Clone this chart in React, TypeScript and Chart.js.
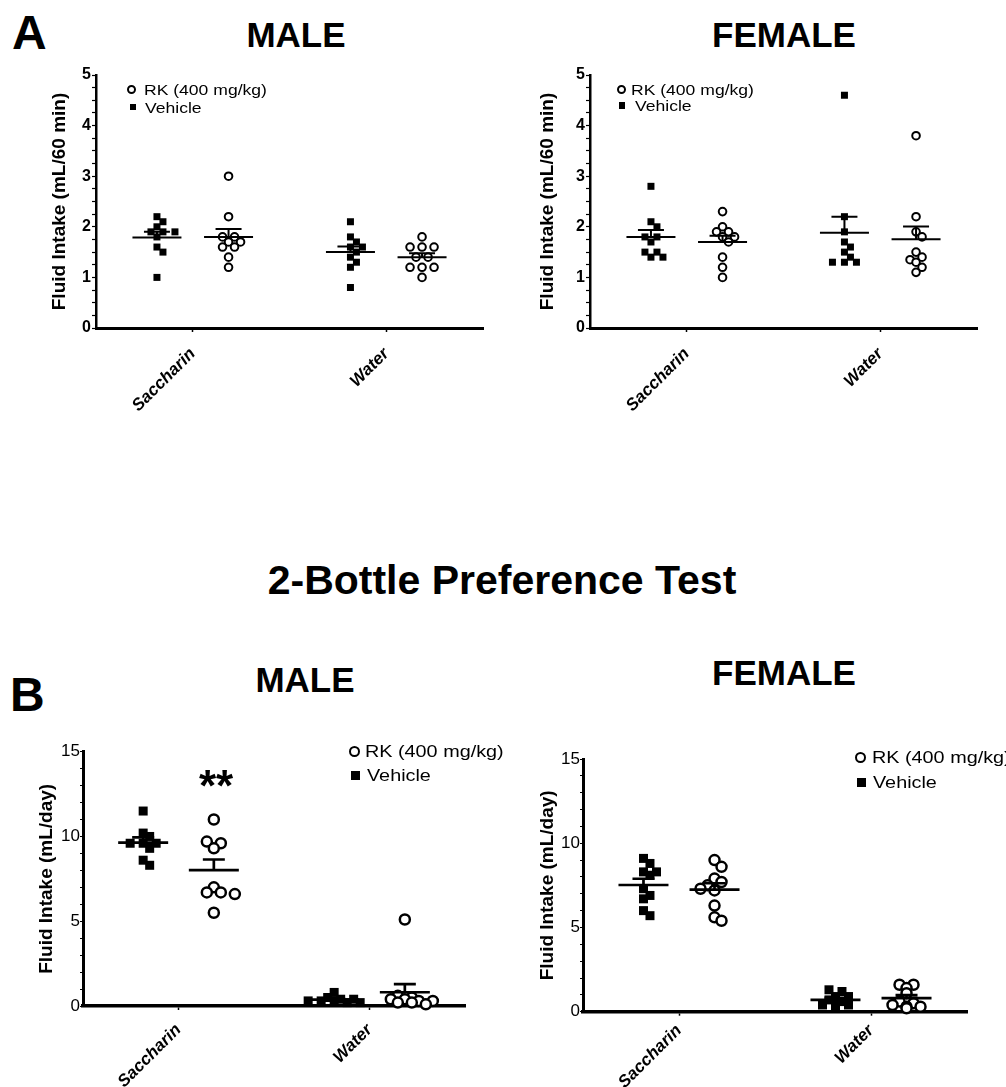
import React, { useEffect, useRef } from 'react';
import { Chart, registerables } from 'chart.js';

Chart.register(...registerables);

const FONT = "'Liberation Sans', Arial, Helvetica, sans-serif";
Chart.defaults.font.family = FONT;
Chart.defaults.color = '#000';

// ---------- data ----------
const categories = ['Saccharin', 'Water'];
const seriesNames = ['RK (400 mg/kg)', 'Vehicle'];

// Panel A – fluid intake (mL/60 min)
const maleA_vehicle_saccharin = [2.2, 2.1, 2.0, 1.9, 1.9, 1.9, 1.8, 1.6, 1.5, 1.0];
const maleA_rk_saccharin = [3.0, 2.2, 1.8, 1.8, 1.7, 1.7, 1.6, 1.6, 1.4, 1.2];
const maleA_vehicle_water = [2.1, 1.8, 1.7, 1.6, 1.6, 1.5, 1.4, 1.3, 1.2, 0.8];
const maleA_rk_water = [1.8, 1.6, 1.6, 1.6, 1.4, 1.4, 1.2, 1.2, 1.2, 1.0];
const femaleA_vehicle_saccharin = [2.8, 2.1, 2.0, 1.8, 1.8, 1.7, 1.5, 1.5, 1.4, 1.4];
const femaleA_rk_saccharin = [2.3, 2.0, 1.9, 1.9, 1.8, 1.8, 1.7, 1.4, 1.2, 1.0];
const femaleA_vehicle_water = [4.6, 2.2, 1.9, 1.7, 1.6, 1.5, 1.4, 1.3, 1.3, 1.3];
const femaleA_rk_water = [3.8, 2.2, 1.9, 1.8, 1.5, 1.4, 1.35, 1.3, 1.2, 1.1];

// Panel B – 2-bottle preference test (mL/day)
const maleB_vehicle_saccharin = [11.5, 10.2, 10.0, 9.6, 9.6, 9.6, 9.3, 8.6, 8.3];
const maleB_rk_saccharin = [11.0, 9.7, 9.6, 9.3, 7.0, 6.7, 6.7, 6.6, 5.5];
const maleB_vehicle_water = [0.8, 0.5, 0.4, 0.4, 0.3, 0.3, 0.3, 0.2, 0.2];
const maleB_rk_water = [5.1, 0.6, 0.5, 0.4, 0.4, 0.3, 0.3, 0.2, 0.2, 0.1];
const femaleB_vehicle_saccharin = [9.1, 8.8, 8.3, 8.3, 8.1, 7.3, 6.9, 6.7, 6.0, 5.7];
const femaleB_rk_saccharin = [9.0, 8.6, 7.9, 7.7, 7.5, 7.3, 7.2, 6.3, 5.6, 5.4];
const femaleB_vehicle_water = [1.3, 1.2, 0.9, 0.9, 0.7, 0.6, 0.4, 0.4, 0.4, 0.2];
const femaleB_rk_water = [1.6, 1.6, 1.4, 1.1, 0.6, 0.5, 0.4, 0.3, 0.3, 0.2];

const yTitleA = 'Fluid Intake (mL/60 min)';
const yTitleB = 'Fluid Intake (mL/day)';

// ---------- helpers ----------
const GROUP_OFFSET = 0.185;

function mean(a: number[]) {
  return a.reduce((s, v) => s + v, 0) / a.length;
}
function sem(a: number[]) {
  const m = mean(a);
  const v = a.reduce((s, x) => s + (x - m) * (x - m), 0) / (a.length - 1);
  return Math.sqrt(v) / Math.sqrt(a.length);
}

// GraphPad-like arrangement: equal values form centred rows, nearby rows are
// shifted by half a spacing to avoid overlapping. Returns pixel offsets.
function swarm(values: number[], pxY: number, d: number, s: number, maxRow: number): number[] {
  const idx = values.map((_, i) => i).sort((a, b) => values[b] - values[a]);
  const out = new Array(values.length).fill(0);
  const placed: { x: number; y: number }[] = [];
  const rows: number[][] = [];
  let row: number[] = [];
  let rowTop = 0;
  for (const id of idx) {
    const y = values[id] * pxY;
    if (row.length && (rowTop - y > 2.5 || row.length >= maxRow)) {
      rows.push(row);
      row = [];
    }
    if (!row.length) rowTop = y;
    row.push(id);
  }
  if (row.length) rows.push(row);
  const h = d / 2;
  const shifts = [0, h, -h];
  for (const r of rows) {
    const base = r.map((_, k) => (k - (r.length - 1) / 2) * d);
    let best = 0;
    let bestC = Infinity;
    for (const sh of shifts) {
      let c = 0;
      r.forEach((id, k) => {
        const x = base[k] + sh;
        const y = values[id] * pxY;
        for (const p of placed) {
          if (Math.abs(p.y - y) < s && Math.abs(p.x - x) < h - 0.01) c++;
        }
      });
      if (c < bestC) {
        bestC = c;
        best = sh;
      }
      if (c === 0) break;
    }
    r.forEach((id, k) => {
      const x = base[k] + best;
      out[id] = x;
      placed.push({ x, y: values[id] * pxY });
    });
  }
  return out;
}

type PanelCfg = {
  cx: number; cy: number; cw: number; ch: number;
  L: number; T: number; R: number; B: number;
  yMax: number; yMinor: number; yMajor: number;
  yTitle: string; yTitleSize: number; yTitleCenter: number;
  yTickSize: number; yTickWeight: string; yTickPad: number; yTickLen: number;
  xTickSize: number; xTickPad: number;
  axisW: number; sq: number; circR: number; circBW: number;
  dSq: number; sSq: number; dCirc: number; sCirc: number; maxRow: number;
  meanHalf: number; capHalf: number; lineW: number;
  veh: number[][]; rk: number[][];
};

const panels: PanelCfg[] = [
  {
    cx: 0, cy: 55, cw: 495, ch: 370, L: 96, T: 75, R: 483, B: 328,
    yMax: 5, yMinor: 0.25, yMajor: 1,
    yTitle: yTitleA, yTitleSize: 19, yTitleCenter: 60,
    yTickSize: 16, yTickWeight: 'bold', yTickPad: 1, yTickLen: 4,
    xTickSize: 17, xTickPad: 12,
    axisW: 2.5, sq: 7, circR: 3.8, circBW: 2,
    dSq: 12, sSq: 6.5, dCirc: 12, sCirc: 9.5, maxRow: 5,
    meanHalf: 24.5, capHalf: 13, lineW: 2,
    veh: [maleA_vehicle_saccharin, maleA_vehicle_water],
    rk: [maleA_rk_saccharin, maleA_rk_water],
  },
  {
    cx: 500, cy: 55, cw: 500, ch: 370, L: 590, T: 75, R: 977, B: 328,
    yMax: 5, yMinor: 0.25, yMajor: 1,
    yTitle: yTitleA, yTitleSize: 19, yTitleCenter: 548,
    yTickSize: 16, yTickWeight: 'bold', yTickPad: 1, yTickLen: 4,
    xTickSize: 17, xTickPad: 12,
    axisW: 2.5, sq: 7, circR: 3.8, circBW: 2,
    dSq: 12, sSq: 6.5, dCirc: 12, sCirc: 9.5, maxRow: 5,
    meanHalf: 24.5, capHalf: 13, lineW: 2,
    veh: [femaleA_vehicle_saccharin, femaleA_vehicle_water],
    rk: [femaleA_rk_saccharin, femaleA_rk_water],
  },
  {
    cx: 0, cy: 735, cw: 490, ch: 352, L: 83, T: 751.7, R: 465, B: 1006,
    yMax: 15, yMinor: 1, yMajor: 5,
    yTitle: yTitleB, yTitleSize: 19, yTitleCenter: 47,
    yTickSize: 17, yTickWeight: 'normal', yTickPad: 0, yTickLen: 3,
    xTickSize: 17, xTickPad: 10,
    axisW: 3, sq: 9, circR: 5, circBW: 2.5,
    dSq: 13, sSq: 8.5, dCirc: 14, sCirc: 11.5, maxRow: 5,
    meanHalf: 25, capHalf: 11, lineW: 2.7,
    veh: [maleB_vehicle_saccharin, maleB_vehicle_water],
    rk: [maleB_rk_saccharin, maleB_rk_water],
  },
  {
    cx: 500, cy: 740, cw: 506, ch: 347, L: 583, T: 759, R: 967, B: 1011.7,
    yMax: 15, yMinor: 1, yMajor: 5,
    yTitle: yTitleB, yTitleSize: 19, yTitleCenter: 548,
    yTickSize: 17, yTickWeight: 'normal', yTickPad: 0, yTickLen: 3,
    xTickSize: 17, xTickPad: 5,
    axisW: 3, sq: 9, circR: 5, circBW: 2.5,
    dSq: 13, sSq: 8.5, dCirc: 14, sCirc: 11.5, maxRow: 5,
    meanHalf: 25, capHalf: 11, lineW: 2.7,
    veh: [femaleB_vehicle_saccharin, femaleB_vehicle_water],
    rk: [femaleB_rk_saccharin, femaleB_rk_water],
  },
];

function DotPanel({ p }: { p: PanelCfg }) {
  const ref = useRef<HTMLCanvasElement>(null);
  useEffect(() => {
    const canvas = ref.current;
    if (!canvas) return;
    const pxX = (p.R - p.L) / 2;
    const pxY = (p.B - p.T) / p.yMax;

    const build = (sets: number[][], off: number, d: number, s: number) =>
      sets.flatMap((arr, ci) => {
        const j = swarm(arr, pxY, d, s, p.maxRow);
        return arr.map((v, i) => ({ x: ci + 1 + off + j[i] / pxX, y: v }));
      });

    const groups = [
      ...p.veh.map((arr, ci) => ({ center: ci + 1 - GROUP_OFFSET, values: arr })),
      ...p.rk.map((arr, ci) => ({ center: ci + 1 + GROUP_OFFSET, values: arr })),
    ];

    const meanSem = {
      id: 'meanSem',
      afterDatasetsDraw(chart: any) {
        const { ctx } = chart;
        const xs = chart.scales.x;
        const ys = chart.scales.y;
        ctx.save();
        ctx.strokeStyle = '#000';
        ctx.lineWidth = p.lineW;
        ctx.lineCap = 'butt';
        for (const g of groups) {
          const cx = xs.getPixelForValue(g.center);
          const m = mean(g.values);
          const s = sem(g.values);
          const ym = ys.getPixelForValue(m);
          const yt = ys.getPixelForValue(m + s);
          ctx.beginPath();
          ctx.moveTo(cx - p.meanHalf, ym);
          ctx.lineTo(cx + p.meanHalf, ym);
          ctx.moveTo(cx, ym);
          ctx.lineTo(cx, yt);
          ctx.moveTo(cx - p.capHalf, yt);
          ctx.lineTo(cx + p.capHalf, yt);
          ctx.stroke();
        }
        ctx.restore();
      },
    };

    const chart = new Chart(canvas, {
      type: 'scatter',
      data: {
        datasets: [
          {
            label: seriesNames[1],
            data: build(p.veh, -GROUP_OFFSET, p.dSq, p.sSq),
            pointStyle: 'rect',
            pointRadius: p.sq / Math.SQRT2,
            backgroundColor: '#000',
            borderColor: '#000',
            borderWidth: 0,
            clip: false,
          } as any,
          {
            label: seriesNames[0],
            data: build(p.rk, GROUP_OFFSET, p.dCirc, p.sCirc),
            pointStyle: 'circle',
            pointRadius: p.circR,
            backgroundColor: '#fff',
            borderColor: '#000',
            borderWidth: p.circBW,
            clip: false,
          } as any,
        ],
      },
      options: {
        animation: false,
        responsive: false,
        devicePixelRatio: 1,
        events: [],
        layout: { padding: { left: 0, top: p.T - p.cy, right: p.cx + p.cw - p.R, bottom: 0 } },
        plugins: { legend: { display: false }, tooltip: { enabled: false }, title: { display: false } },
        scales: {
          x: {
            type: 'linear',
            min: 0.5,
            max: 2.5,
            afterBuildTicks: (s: any) => {
              s.ticks = categories.map((_, i) => ({ value: i + 1 }));
            },
            afterFit: (s: any) => {
              s.height = p.cy + p.ch - p.B;
            },
            ticks: {
              autoSkip: false,
              minRotation: 45,
              maxRotation: 45,
              padding: p.xTickPad,
              color: '#000',
              font: { size: p.xTickSize, weight: 'bold', style: 'italic' },
              callback: (v: any) => categories[Math.round(Number(v)) - 1] ?? '',
            },
            grid: { display: true, drawOnChartArea: false, drawTicks: true, tickLength: 4, tickColor: '#000', tickWidth: 1.5 },
            border: { display: true, color: '#000', width: p.axisW + 0.5 },
          },
          y: {
            type: 'linear',
            min: 0,
            max: p.yMax,
            afterFit: (s: any) => {
              s.width = p.L - p.cx;
            },
            ticks: {
              stepSize: p.yMinor,
              autoSkip: false,
              padding: p.yTickPad,
              color: '#000',
              font: { size: p.yTickSize, weight: p.yTickWeight as any },
              callback: (v: any) => {
                const n = Number(v);
                const r = n / p.yMajor;
                return Math.abs(r - Math.round(r)) < 1e-6 ? String(Math.round(n)) : '';
              },
            },
            grid: { display: true, drawOnChartArea: false, drawTicks: true, tickLength: p.yTickLen, tickColor: '#000', tickWidth: 1.2 },
            border: { display: true, color: '#000', width: p.axisW },
            title: {
              display: true,
              text: p.yTitle,
              color: '#000',
              font: { size: p.yTitleSize, weight: 'bold' },
              padding: { top: p.yTitleCenter - p.cx - (p.yTitleSize * 1.2) / 2, bottom: 0 },
            },
          },
        },
      },
      plugins: [meanSem],
    });
    return () => chart.destroy();
  }, [p]);
  return (
    <canvas
      ref={ref}
      width={p.cw}
      height={p.ch}
      style={{ position: 'absolute', left: p.cx, top: p.cy, width: p.cw, height: p.ch }}
    />
  );
}

// text positioned by its cap-top
function Txt(props: {
  x: number; capTop: number; size: number; bold?: boolean; center?: boolean; children: React.ReactNode;
}) {
  const { x, capTop, size, bold, center, children } = props;
  const top = capTop - 0.13 * size;
  const style: React.CSSProperties = {
    position: 'absolute',
    top,
    fontSize: size,
    lineHeight: `${size}px`,
    fontWeight: bold ? 'bold' : 'normal',
    fontFamily: FONT,
    whiteSpace: 'nowrap',
    color: '#000',
  };
  if (center) {
    style.left = x - 400;
    style.width = 800;
    style.textAlign = 'center';
  } else {
    style.left = x;
  }
  return <div style={style}>{children}</div>;
}

type LegendCfg = {
  circle: [number, number]; square: [number, number];
  text1: [number, number]; text2: [number, number];
  size: number; scaleX: number; circD: number; circBW: number; sq: number;
};

const legends: LegendCfg[] = [
  { circle: [131, 89.5], square: [133, 107], text1: [143.5, 89.5], text2: [145, 107], size: 15, scaleX: 1.17, circD: 9, circBW: 2, sq: 6.5 },
  { circle: [621, 89], square: [622, 105.5], text1: [631, 89], text2: [635, 105.5], size: 15, scaleX: 1.17, circD: 9, circBW: 2, sq: 6.5 },
  { circle: [354, 751], square: [355, 775], text1: [365, 751], text2: [367, 775], size: 16.5, scaleX: 1.2, circD: 11, circBW: 2.5, sq: 9 },
  { circle: [860, 757], square: [861, 782], text1: [872, 757], text2: [873, 782], size: 16.5, scaleX: 1.2, circD: 11, circBW: 2.5, sq: 9 },
];

function Legend({ l }: { l: LegendCfg }) {
  const textStyle = (x: number, cy: number): React.CSSProperties => ({
    position: 'absolute',
    left: x,
    top: cy - 0.488 * l.size,
    fontSize: l.size,
    lineHeight: `${l.size}px`,
    fontFamily: FONT,
    whiteSpace: 'nowrap',
    color: '#000',
    transform: `scaleX(${l.scaleX})`,
    transformOrigin: 'left center',
  });
  return (
    <>
      <div
        style={{
          position: 'absolute',
          left: l.circle[0] - l.circD / 2,
          top: l.circle[1] - l.circD / 2,
          width: l.circD,
          height: l.circD,
          boxSizing: 'border-box',
          border: `${l.circBW}px solid #000`,
          borderRadius: '50%',
          background: '#fff',
        }}
      />
      <div style={textStyle(l.text1[0], l.text1[1])}>{seriesNames[0]}</div>
      <div
        style={{
          position: 'absolute',
          left: l.square[0] - l.sq / 2,
          top: l.square[1] - l.sq / 2,
          width: l.sq,
          height: l.sq,
          background: '#000',
        }}
      />
      <div style={textStyle(l.text2[0], l.text2[1])}>{seriesNames[1]}</div>
    </>
  );
}

export default function App() {
  return (
    <div
      style={{
        position: 'absolute',
        left: 0,
        top: 0,
        width: 1006,
        height: 1087,
        overflow: 'hidden',
        background: '#fff',
      }}
    >
      <Txt x={12} capTop={15} size={48} bold>A</Txt>
      <Txt x={296} capTop={22} size={35} bold center>MALE</Txt>
      <Txt x={784} capTop={22} size={35} bold center>FEMALE</Txt>
      <Txt x={502} capTop={565} size={41} bold center>2-Bottle Preference Test</Txt>
      <Txt x={10} capTop={677} size={48} bold>B</Txt>
      <Txt x={305} capTop={667} size={35} bold center>MALE</Txt>
      <Txt x={784} capTop={660} size={35} bold center>FEMALE</Txt>
      {panels.map((p, i) => (
        <DotPanel key={i} p={p} />
      ))}
      {legends.map((l, i) => (
        <Legend key={i} l={l} />
      ))}
      <Txt x={216} capTop={770} size={44} bold center>**</Txt>
    </div>
  );
}
